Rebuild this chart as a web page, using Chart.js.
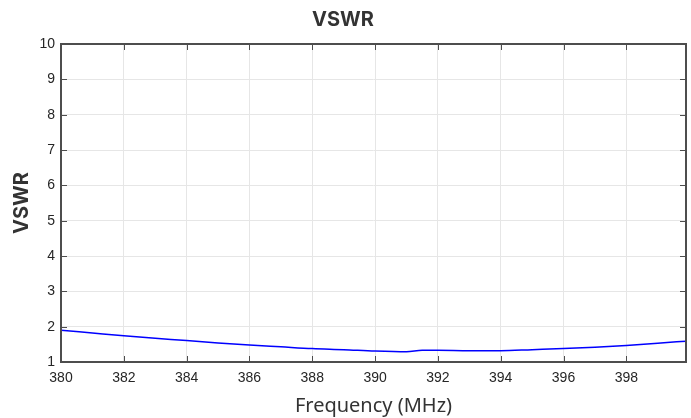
<!DOCTYPE html>
<html>
<head>
<meta charset="utf-8">
<script src="https://cdn.jsdelivr.net/npm/chart.js@4"></script>
<style>
  html, body { margin: 0; padding: 0; background: #fff; }
  #wrap { width: 691px; height: 418px; }
</style>
</head>
<body>
<div id="wrap"><canvas id="vswrChart" width="691" height="418"></canvas></div>
<script>
// values
var freqs = [380, 381, 382, 383, 384, 385, 386, 387, 388, 389, 390, 391, 391.5, 392, 393, 394, 395, 396, 397, 398, 399, 399.9];
var vswr  = [1.90, 1.82, 1.74, 1.67, 1.61, 1.54, 1.48, 1.43, 1.38, 1.35, 1.31, 1.29, 1.33, 1.33, 1.32, 1.32, 1.35, 1.38, 1.42, 1.47, 1.53, 1.59];
var xTicks = [380, 382, 384, 386, 388, 390, 392, 394, 396, 398];
var yTicks = [1, 2, 3, 4, 5, 6, 7, 8, 9, 10];

var axisColor = '#4d4d4d';
var gridColor = '#e6e6e6';
var textColor = '#262626';

var points = freqs.map(function(f, i) { return { x: f, y: vswr[i] }; });

// box round the plot area and small inward ticks, matlab style
var boxPlugin = {
  id: 'box',
  afterDatasetsDraw: function(chart) {
    var ctx = chart.ctx;
    var a = chart.chartArea;
    var xs = chart.scales.x, ys = chart.scales.y;
    ctx.save();
    ctx.strokeStyle = axisColor;
    ctx.lineWidth = 1;
    xTicks.forEach(function(v) {
      var px = Math.round(xs.getPixelForValue(v)) + 0.5;
      ctx.beginPath();
      ctx.moveTo(px, a.bottom); ctx.lineTo(px, a.bottom - 6);
      ctx.moveTo(px, a.top); ctx.lineTo(px, a.top + 6);
      ctx.stroke();
    });
    yTicks.forEach(function(v) {
      var py = Math.round(ys.getPixelForValue(v)) + 0.5;
      ctx.beginPath();
      ctx.moveTo(a.left, py); ctx.lineTo(a.left + 6, py);
      ctx.moveTo(a.right, py); ctx.lineTo(a.right - 6, py);
      ctx.stroke();
    });
    ctx.lineWidth = 2;
    ctx.strokeRect(a.left, a.top, a.right - a.left, a.bottom - a.top);
    ctx.restore();
  }
};

var chart = new Chart(document.getElementById('vswrChart'), {
  type: 'line',
  data: {
    datasets: [{
      data: points,
      borderColor: '#0000ff',
      borderWidth: 1.5,
      pointRadius: 0,
      fill: false,
      cubicInterpolationMode: 'monotone'
    }]
  },
  options: {
    responsive: false,
    animation: false,
    layout: { padding: { left: 0, right: 5, top: 0, bottom: 0 } },
    plugins: {
      legend: { display: false },
      tooltip: { enabled: false },
      title: {
        display: true,
        text: 'VSWR',
        color: '#333333',
        font: { family: 'Inter, "Noto Sans", sans-serif', size: 20, weight: 'bold' },
        padding: { top: 8, bottom: 12 }
      }
    },
    scales: {
      x: {
        type: 'linear',
        min: 380,
        max: 399.9,
        afterBuildTicks: function(s) {
          s.ticks = xTicks.map(function(v) { return { value: v }; });
        },
        afterFit: function(s) { s.height = 56; },
        ticks: {
          color: textColor,
          font: { family: '"Liberation Sans", Arial, sans-serif', size: 14 },
          padding: 8,
          maxRotation: 0,
          autoSkip: false
        },
        grid: { color: gridColor, drawTicks: false },
        border: { display: false },
        title: {
          display: true,
          text: 'Frequency (MHz)',
          color: '#333333',
          font: { family: '"Noto Sans", sans-serif', size: 20 },
          padding: { top: 0, bottom: 0 }
        }
      },
      y: {
        min: 1,
        max: 10,
        afterBuildTicks: function(s) {
          s.ticks = yTicks.map(function(v) { return { value: v }; });
        },
        afterFit: function(s) { s.width = 61; },
        ticks: {
          color: textColor,
          font: { family: '"Liberation Sans", Arial, sans-serif', size: 14 },
          padding: 6
        },
        grid: { color: gridColor, drawTicks: false },
        border: { display: false },
        title: {
          display: true,
          text: 'VSWR',
          color: '#333333',
          font: { family: 'Inter, "Noto Sans", sans-serif', size: 20, weight: 'bold' },
          padding: { top: 10, bottom: 0 }
        }
      }
    }
  },
  plugins: [boxPlugin]
});
</script>
</body>
</html>
